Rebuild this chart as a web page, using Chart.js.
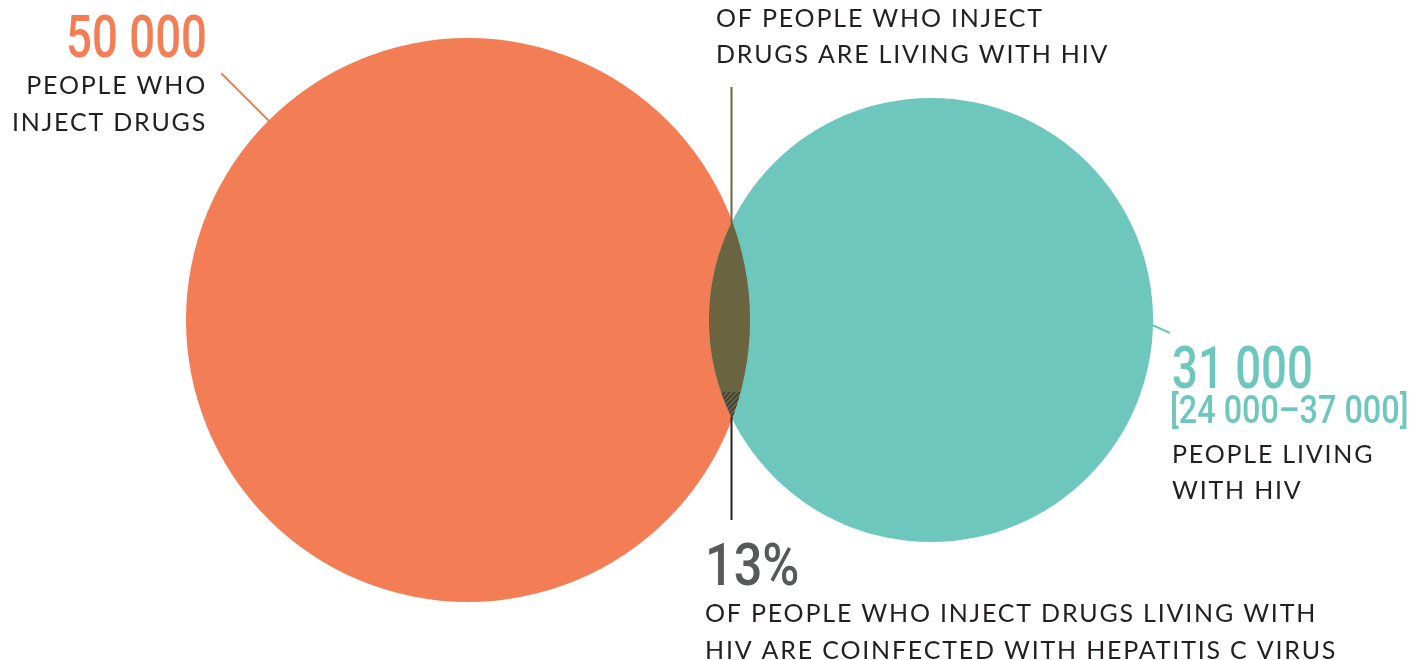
<!DOCTYPE html>
<html><head><meta charset="utf-8">
<script src="https://cdn.jsdelivr.net/npm/chart.js@4/dist/chart.umd.min.js"></script>
<style>html,body{margin:0;padding:0;background:#fff;overflow:hidden}#wrap{width:1411px;height:660px;position:relative}</style>
</head><body><div id="wrap"><canvas id="c" width="1411" height="660"></canvas></div>
<script>
// ---- data ----
const categories = ['People who inject drugs', 'People living with HIV'];
const populationValues = [50000, 31000];
const hivRangeLow = [24000];
const hivRangeHigh = [37000];
const coinfectionPercent = [13];
const labelLines = [['PEOPLE WHO', 'INJECT DRUGS'], ['PEOPLE LIVING', 'WITH HIV']];
const overlapLines = ['OF PEOPLE WHO INJECT', 'DRUGS ARE LIVING WITH HIV'];
const coinfectionLines = ['OF PEOPLE WHO INJECT DRUGS LIVING WITH', 'HIV ARE COINFECTED WITH HEPATITIS C VIRUS'];

// ---- layout / style ----
const colors = ['#F37E55', '#6EC7BD'];
const overlapColor = '#6B6440';
const hatchColor = '#3F3D38';
const textColor = '#231F20';
const pctColor = '#58595B';
const centers = [{x: 468, y: 320}, {x: 931, y: 320}];
const radiusPerSqrt = 1.2612; // area-proportional circles
const hatchTopY = 392;
const dividerX = 731.5, dividerTop = 87, dividerBottom = 520;

const fmt = n => String(n).replace(/\B(?=(\d{3})+(?!\d))/g, ' ');
const rUnits = i => Math.sqrt(populationValues[i]) * radiusPerSqrt;

function txt(ctx, s, x, y, o) {
  ctx.save();
  ctx.font = (o.weight || 400) + ' ' + o.size + 'px ' + (o.family || 'Lato');
  ctx.fillStyle = o.color || textColor;
  ctx.textBaseline = 'alphabetic';
  try { ctx.letterSpacing = (o.ls || 0) + 'px'; } catch (e) {}
  const sx = o.sx || 1;
  let w = ctx.measureText(s).width * sx;
  let left = x;
  if (o.align === 'right') left = x - w;
  ctx.translate(left, y);
  ctx.scale(sx, 1);
  ctx.textAlign = 'left';
  ctx.fillText(s, 0, 0);
  ctx.restore();
}

const vennPlugin = {
  id: 'venn',
  afterDatasetsDraw(chart) {
    const ctx = chart.ctx, xs = chart.scales.x, ys = chart.scales.y;
    const P = (x, y) => ({x: xs.getPixelForValue(x), y: ys.getPixelForValue(y)});
    const R = i => xs.getPixelForValue(rUnits(i)) - xs.getPixelForValue(0);
    const c0 = P(centers[0].x, centers[0].y), c1 = P(centers[1].x, centers[1].y);
    const r0 = R(0), r1 = R(1);
    // lens
    ctx.save();
    ctx.beginPath(); ctx.arc(c0.x, c0.y, r0, 0, Math.PI * 2); ctx.clip();
    ctx.beginPath(); ctx.arc(c1.x, c1.y, r1, 0, Math.PI * 2); ctx.clip();
    ctx.fillStyle = overlapColor;
    ctx.fillRect(0, 0, chart.width, chart.height);
    // hatch for coinfected share
    const ht = ys.getPixelForValue(hatchTopY);
    ctx.beginPath(); ctx.rect(0, ht, chart.width, chart.height - ht); ctx.clip();
    ctx.strokeStyle = hatchColor; ctx.lineWidth = 1.6;
    for (let k = -60; k < 120; k += 5) {
      ctx.beginPath();
      ctx.moveTo(c0.x + r0 - 60 + k, ht + 60);
      ctx.lineTo(c0.x + r0 + k, ht);
      ctx.stroke();
    }
    ctx.restore();
    // divider line
    const d = c1.x - c0.x;
    const a = (d * d + r0 * r0 - r1 * r1) / (2 * d);
    const h = Math.sqrt(r0 * r0 - a * a);
    const dx = xs.getPixelForValue(dividerX);
    ctx.save();
    ctx.lineWidth = 2;
    ctx.strokeStyle = overlapColor;
    ctx.beginPath(); ctx.moveTo(dx, ys.getPixelForValue(dividerTop)); ctx.lineTo(dx, c0.y - h + 2); ctx.stroke();
    ctx.strokeStyle = textColor;
    ctx.beginPath(); ctx.moveTo(dx, c0.y + h - 2); ctx.lineTo(dx, ys.getPixelForValue(dividerBottom)); ctx.stroke();
    // leader lines
    ctx.strokeStyle = colors[0]; ctx.lineWidth = 2;
    const ang = Math.PI * 1.25;
    ctx.beginPath();
    ctx.moveTo(c0.x + Math.cos(ang) * (r0 - 6), c0.y + Math.sin(ang) * (r0 - 6));
    ctx.lineTo(c0.x + Math.cos(ang) * (r0 + 67), c0.y + Math.sin(ang) * (r0 + 67));
    ctx.stroke();
    ctx.strokeStyle = colors[1];
    const p1 = P(1150, 324), p2 = P(1170, 333);
    ctx.beginPath(); ctx.moveTo(p1.x, p1.y); ctx.lineTo(p2.x, p2.y); ctx.stroke();
    ctx.restore();

    // texts
    const num = {family: 'Roboto', weight: 500, size: 60, sx: 0.76};
    const body = {family: 'Lato', weight: 400, size: 25, ls: 1.8};
    txt(ctx, fmt(populationValues[0]), 207, 57, Object.assign({}, num, {align: 'right', color: colors[0]}));
    txt(ctx, labelLines[0][0], 207, 94, Object.assign({}, body, {align: 'right'}));
    txt(ctx, labelLines[0][1], 207, 131, Object.assign({}, body, {align: 'right'}));

    txt(ctx, fmt(populationValues[1]), 1172, 388, Object.assign({}, num, {color: colors[1]}));
    txt(ctx, '[' + fmt(hivRangeLow[0]) + '–' + fmt(hivRangeHigh[0]) + ']', 1170, 423,
        {family: 'Roboto', weight: 500, size: 39, sx: 0.83, color: colors[1]});
    txt(ctx, labelLines[1][0], 1172, 463, body);
    txt(ctx, labelLines[1][1], 1172, 499, body);

    txt(ctx, overlapLines[0], 716, 27, body);
    txt(ctx, overlapLines[1], 716, 63, body);

    txt(ctx, coinfectionPercent[0] + '%', 705, 585, Object.assign({}, num, {sx: 0.84, color: pctColor}));
    txt(ctx, coinfectionLines[0], 705, 622, body);
    txt(ctx, coinfectionLines[1], 705, 659, body);
  }
};

new Chart(document.getElementById('c'), {
  type: 'scatter',
  data: {
    labels: categories,
    datasets: [{
      label: 'Population',
      data: categories.map((c, i) => ({x: centers[i].x, y: centers[i].y})),
      backgroundColor: colors,
      borderWidth: 0,
      pointBorderWidth: 0,
      pointRadius: ctx => {
        const xs = ctx.chart.scales.x;
        if (!xs) return 0;
        return xs.getPixelForValue(rUnits(ctx.dataIndex)) - xs.getPixelForValue(0);
      },
      pointHoverRadius: ctx => {
        const xs = ctx.chart.scales.x;
        if (!xs) return 0;
        return xs.getPixelForValue(rUnits(ctx.dataIndex)) - xs.getPixelForValue(0);
      }
    }]
  },
  options: {
    responsive: false,
    animation: false,
    events: [],
    layout: {padding: 0},
    plugins: {legend: {display: false}, tooltip: {enabled: false}},
    scales: {
      x: {type: 'linear', min: 0, max: 1411, display: false},
      y: {type: 'linear', min: 0, max: 660, reverse: true, display: false}
    }
  },
  plugins: [vennPlugin]
});
</script></body></html>
